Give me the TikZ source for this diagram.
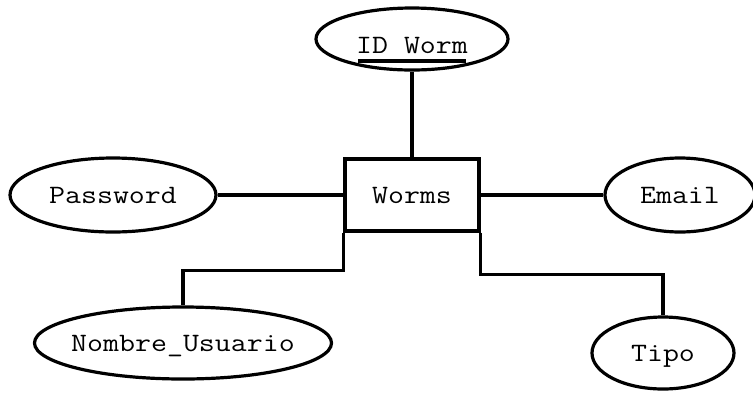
\documentclass[tikz,border=0pt]{standalone}
\usepackage{fontspec}
\newfontfamily\courfont[FakeStretch=1.17]{Latin Modern Mono}
\usetikzlibrary{shapes.geometric}
\begin{document}
\begin{tikzpicture}[x=1pt,y=-1pt,
  every node/.style={font=\courfont\fontsize{26.5}{30}\selectfont, text height=16pt, text depth=0pt},
  every label/.style={inner sep=0pt},
  attr/.style={ellipse, draw, line width=3.2pt, inner sep=0pt},
  entity/.style={rectangle, draw, line width=3.2pt, inner sep=0pt, minimum width=134pt, minimum height=72pt},
  link/.style={line width=3.2pt},
  ul/.style={line width=3.4pt, shorten <=2pt, shorten >=2pt}]
\useasboundingbox (0,0) rectangle (753,392);
\node[entity] (wm) at (412,195) {Worms};
\node[attr, minimum width=192pt, minimum height=62pt] (idw) at (412,39) {};
\node[inner sep=0pt] (idt) at (412,45) {ID Worm};
\draw[ul] ([yshift=-8pt]idt.base west) -- ([yshift=-8pt]idt.base east);
\node[attr, minimum width=206pt, minimum height=74pt, label=center:{Password}] (pw) at (113,195) {};
\node[attr, minimum width=150pt, minimum height=74pt, label=center:{Email}] (em) at (680,195) {};
\node[attr, minimum width=297pt, minimum height=72pt, label=center:{Nombre\_Usuario}] (nu) at (183,343) {};
\node[attr, minimum width=142pt, minimum height=72pt, label=center:{Tipo}] (tp) at (663,353) {};
\draw[link] (idw.south) -- (wm.north);
\draw[link] (pw.east) -- (wm.west);
\draw[link] (wm.east) -- (em.west);
\draw[link] (wm.south west) -- ++(0,38) -| (nu.north);
\draw[link] (wm.south east) -- ++(0,42) -| (tp.north);
\end{tikzpicture}
\end{document}
